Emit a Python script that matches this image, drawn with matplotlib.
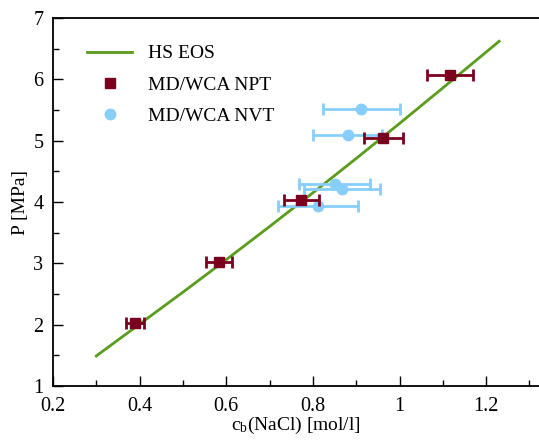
import matplotlib
matplotlib.use("Agg")
import matplotlib.pyplot as plt

plt.rcParams["font.family"] = ["Liberation Serif", "DejaVu Serif"]
plt.rcParams["mathtext.fontset"] = "custom"
plt.rcParams["mathtext.rm"] = "Liberation Serif"
plt.rcParams["mathtext.it"] = "Liberation Serif:italic"

# HS equation of state curve
eos_c = [0.30, 0.40, 0.50, 0.60, 0.70, 0.80, 0.90, 1.00, 1.10, 1.23]
eos_p = [1.49, 2.01, 2.53, 3.06, 3.60, 4.15, 4.71, 5.28, 5.86, 6.62]

# MD/WCA NPT
npt_c = [0.389, 0.584, 0.773, 0.963, 1.117]
npt_p = [2.02, 3.02, 4.03, 5.04, 6.07]
npt_err = [0.020, 0.030, 0.040, 0.046, 0.053]

# MD/WCA NVT
nvt_c = [0.912, 0.880, 0.850, 0.867, 0.811]
nvt_p = [5.51, 5.10, 4.29, 4.21, 3.93]
nvt_err = [0.089, 0.080, 0.082, 0.088, 0.092]

green = "#5a9c1c"
red = "#7b0020"
blue = "#87cefa"

fig = plt.figure(figsize=(5.39, 4.40), dpi=100)
ax = fig.add_axes([0.0983, 0.1227, 0.9017, 0.8364])

ax.plot(eos_c, eos_p, color=green, lw=2, zorder=2)
ax.errorbar(nvt_c, nvt_p, xerr=nvt_err, fmt="o", color=blue, ms=7.5,
            elinewidth=2, capsize=4, capthick=2, zorder=3)
ax.errorbar(npt_c, npt_p, xerr=npt_err, fmt="s", color=red, ms=7.5,
            elinewidth=2, capsize=4, capthick=2, zorder=4)

# legend handles (markers only, no error bars)
ax.plot([], [], color=green, lw=2, label="HS EOS")
ax.plot([], [], "s", color=red, ms=7.5, label="MD/WCA NPT")
ax.plot([], [], "o", color=blue, ms=7.5, label="MD/WCA NVT")
ax.legend(loc="upper left", bbox_to_anchor=(0.035, 0.975), frameon=False,
          fontsize=14, handlelength=2.3, handletextpad=0.8, labelspacing=0.7)

ax.set_xlim(0.2, 1.322)
ax.set_ylim(1, 7)
ax.set_xticks([0.2, 0.4, 0.6, 0.8, 1.0, 1.2])
ax.set_xticklabels(["0.2", "0.4", "0.6", "0.8", "1", "1.2"])
ax.set_xticks([0.3, 0.5, 0.7, 0.9, 1.1, 1.3], minor=True)
ax.set_yticks([1, 2, 3, 4, 5, 6, 7])
ax.set_yticks([1.5, 2.5, 3.5, 4.5, 5.5, 6.5], minor=True)
ax.tick_params(which="both", direction="in", labelsize=14.5, width=1)
ax.tick_params(which="major", length=7)
ax.tick_params(which="minor", length=4)
ax.tick_params(axis="x", which="major", pad=8)
ax.tick_params(axis="y", which="major", pad=7)
ax.spines["right"].set_visible(False)
for s in ["left", "bottom", "top"]:
    ax.spines[s].set_linewidth(1.3)

ax.set_xlabel(r"c$_\mathrm{b}$(NaCl) [mol/l]", fontsize=14, labelpad=-1)
ax.set_ylabel("P [MPa]", fontsize=14, labelpad=3)

fig.savefig("out.png", dpi=100)
